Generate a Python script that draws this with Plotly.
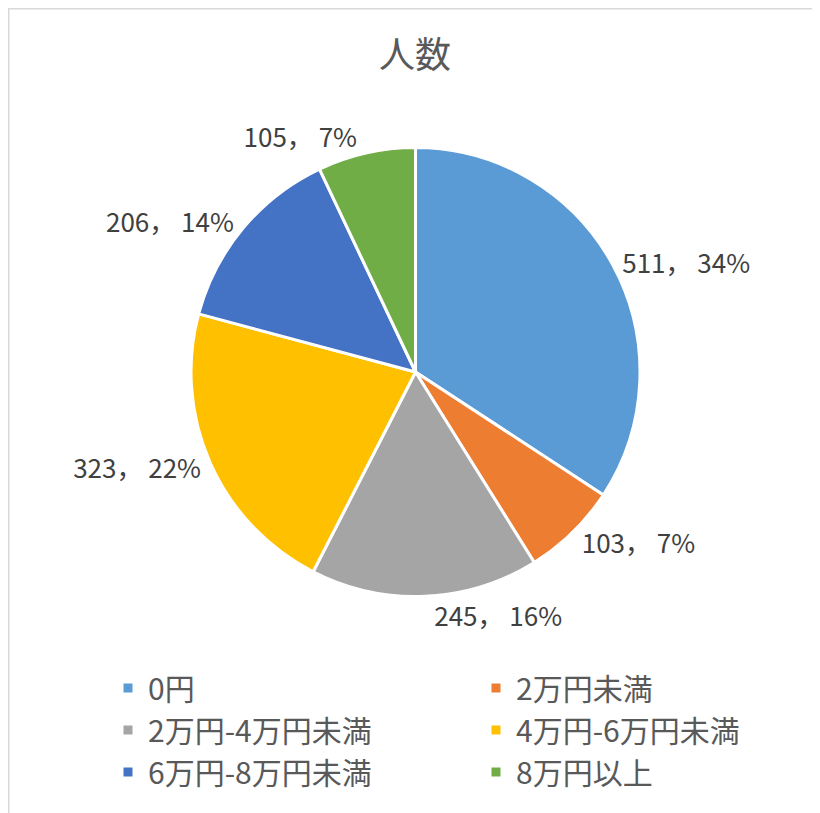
import plotly.graph_objects as go

categories = ["0円", "2万円未満", "2万円-4万円未満", "4万円-6万円未満", "6万円-8万円未満", "8万円以上"]
values = [511, 103, 245, 323, 206, 105]
colors = ["#5B9BD5", "#ED7D31", "#A5A5A5", "#FFC000", "#4472C4", "#70AD47"]

W, H = 820, 813
font_family = "Noto Sans CJK JP, Noto Sans, sans-serif"

fig = go.Figure(go.Pie(
    labels=categories,
    values=values,
    sort=False,
    direction="clockwise",
    rotation=0,
    marker=dict(colors=colors, line=dict(color="white", width=3)),
    texttemplate="%{value}， %{percent:.0%}",
    textposition="outside",
    textfont=dict(size=26, color="#404040", family=font_family),
    domain=dict(x=[183 / W, 632 / W], y=[1 - 589 / H, 1 - 139 / H]),
    showlegend=True,
    hoverinfo="label+value+percent",
))

fig.update_layout(
    width=W, height=H,
    margin=dict(l=0, r=0, t=0, b=0, autoexpand=False),
    paper_bgcolor="white",
    font=dict(family=font_family, color="#595959"),
    title=dict(text="人数", x=407 / W, xanchor="center", y=1 - 47 / H, yanchor="middle",
               font=dict(size=36, color="#595959", family=font_family)),
    legend=dict(
        orientation="h",
        x=100 / W, xanchor="left",
        y=1 - 654 / H, yanchor="top",
        entrywidth=323, entrywidthmode="pixels",
        font=dict(size=30, color="#595959", family=font_family),
        tracegroupgap=0,
        bgcolor="rgba(0,0,0,0)",
    ),
    shapes=[dict(type="rect", xref="paper", yref="paper",
                 x0=0, x1=1.05, y0=-0.05, y1=1,
                 line=dict(color="#D9D9D9", width=3), fillcolor="rgba(0,0,0,0)",
                 layer="below")],
)

fig.write_html("out.html")
